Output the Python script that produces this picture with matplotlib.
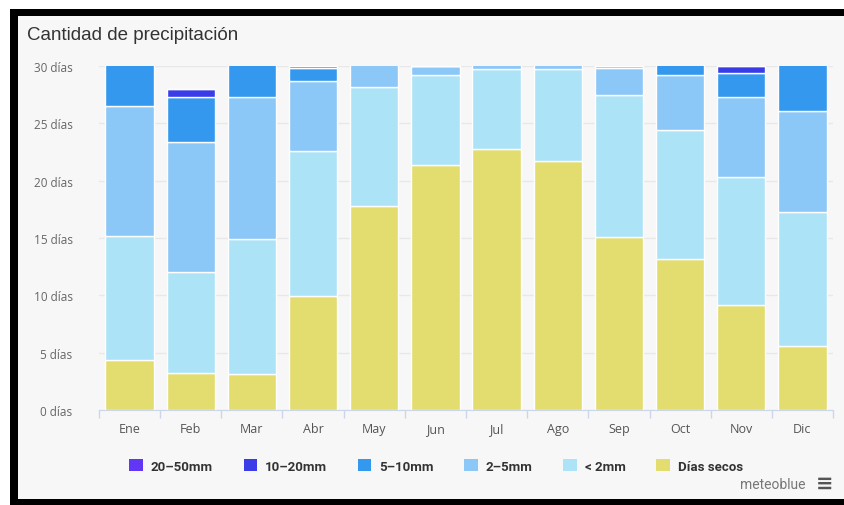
import numpy as np
import matplotlib.pyplot as plt
from matplotlib.patches import Rectangle, Patch

months = ['Ene', 'Feb', 'Mar', 'Abr', 'May', 'Jun', 'Jul', 'Ago', 'Sep', 'Oct', 'Nov', 'Dic']

# days per month in each class (bottom to top); chart is cut at 30 days
dry     = [4.4, 3.2, 3.1, 9.9, 17.8, 21.4, 22.8, 21.7, 15.1, 13.2, 9.2, 5.6]
lt2     = [10.8, 8.8, 11.8, 12.7, 10.4, 7.8, 6.9, 8.0, 12.4, 11.2, 11.1, 11.7]
mm2_5   = [11.3, 11.4, 12.4, 6.1, 2.8, 0.8, 1.2, 1.2, 2.3, 4.8, 7.0, 8.8]
mm5_10  = [4.5, 3.9, 3.7, 1.1, 0.0, 0.0, 0.1, 0.1, 0.2, 1.8, 2.1, 4.9]
mm10_20 = [0.0, 0.7, 0.0, 0.2, 0.0, 0.0, 0.0, 0.0, 0.0, 0.0, 0.6, 0.0]
mm20_50 = [0.0, 0.0, 0.0, 0.0, 0.0, 0.0, 0.0, 0.0, 0.0, 0.0, 0.0, 0.0]

series = [
    ('Días secos', dry, '#e3dc6e'),
    ('< 2mm', lt2, '#ade3f6'),
    ('2–5mm', mm2_5, '#8bc7f7'),
    ('5–10mm', mm5_10, '#3398ee'),
    ('10–20mm', mm10_20, '#3a3ce8'),
    ('20–50mm', mm20_50, '#6236f5'),
]

bg = '#f7f7f7'
fig = plt.figure(figsize=(8.45, 5.06), dpi=100)
fig.patch.set_facecolor('white')

# screenshot frame: black bands and light panel
fig.patches.append(Rectangle((10/845, 0), 1, 1 - 10/506, transform=fig.transFigure,
                             facecolor='black', edgecolor='none', zorder=-3))
fig.patches.append(Rectangle((18/845, 6/506), 1, 1 - 23/506, transform=fig.transFigure,
                             facecolor=bg, edgecolor='none', zorder=-2))

ax = fig.add_axes([99/845, 1 - 411/506, 734/845, 344/506])
ax.set_facecolor(bg)

x = np.arange(len(months))
bottom = np.zeros(len(months))
for name, vals, col in series:
    vals = np.array(vals)
    ax.bar(x, vals, width=0.79, bottom=bottom, color=col, edgecolor='white', linewidth=1, zorder=2)
    bottom += vals

ax.set_xlim(-0.5, 11.5)
ax.set_ylim(0, 30)
ax.set_yticks([0, 5, 10, 15, 20, 25, 30])
ax.set_yticklabels([f'{v} días' for v in [0, 5, 10, 15, 20, 25, 30]])
ax.grid(axis='y', color='#e8e8e8', linewidth=1, zorder=0)
ax.set_axisbelow(True)

ax.set_xticks(x)
ax.set_xticklabels(months)
ax.set_xticks(np.arange(-0.5, 12, 1), minor=True)
ax.tick_params(axis='x', which='major', length=0, pad=9, labelsize=9, labelcolor='#555555')
ax.tick_params(axis='x', which='minor', length=6, color='#ccd6eb', width=1)
ax.tick_params(axis='y', length=0, pad=19, labelsize=8.5, labelcolor='#666666')
for lab in ax.get_xticklabels() + ax.get_yticklabels():
    lab.set_fontfamily('Open Sans')

for s in ['top', 'right', 'left']:
    ax.spines[s].set_visible(False)
ax.spines['bottom'].set_color('#ccd6eb')

fig.text(27/845, 1 - 36/506, 'Cantidad de precipitación', fontsize=13.5, color='#333333',
         family='Liberation Sans', va='center', ha='left')

handles = [Patch(facecolor=col, edgecolor='none', label=name) for name, vals, col in series[::-1]]
leg = fig.legend(handles=handles, loc='center', bbox_to_anchor=(436/845, 1 - 467/506), ncol=6,
                 frameon=False, handlelength=1.0, handleheight=1.0, handletextpad=0.6,
                 columnspacing=2.35, prop={'family': 'Roboto', 'weight': 'bold', 'size': 9.5})
for t in leg.get_texts():
    t.set_color('#333333')

fig.text(806/845, 1 - 485/506, 'meteoblue', fontsize=10, color='#777777', family='Roboto',
         ha='right', va='center')
fig.text(825/845, 1 - 484/506, '≡', fontsize=15, color='#555555', family='DejaVu Sans',
         ha='center', va='center', weight='bold')

fig.savefig('out.png', dpi=100, facecolor=fig.get_facecolor())
